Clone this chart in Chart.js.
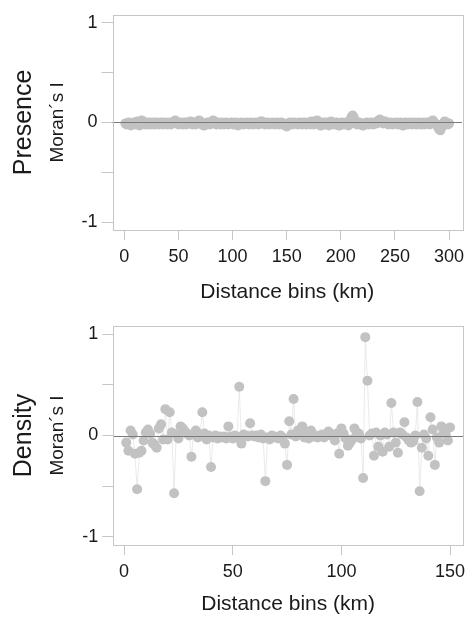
<!DOCTYPE html>
<html>
<head>
<meta charset="utf-8">
<script src="https://cdn.jsdelivr.net/npm/chart.js@4.4.1/dist/chart.umd.min.js"></script>
<style>
  html, body { margin: 0; padding: 0; background: #ffffff; }
  #wrap { position: relative; width: 472px; height: 617px; }
  #presenceChart { position: absolute; left: 0; top: 0; }
  #densityChart { position: absolute; left: 0; top: 305px; }
</style>
</head>
<body>
<div id="wrap">
  <canvas id="presenceChart" width="472" height="305"></canvas>
  <canvas id="densityChart" width="472" height="312"></canvas>
</div>
<script>
// Moran's I per distance bin, presence model (bins 1..300)
const presenceValues = [
  -0.01,-0.02,-0.01,0.00,-0.02,-0.03,-0.01,-0.02,0.00,-0.01,-0.02,0.01,-0.01,-0.03,-0.02,0.02,0.01,-0.01,-0.02,0.00,
  -0.01,-0.02,0.00,-0.01,-0.02,-0.01,0.00,-0.02,-0.01,0.00,-0.01,-0.02,-0.01,0.00,-0.01,-0.02,0.00,-0.01,-0.01,-0.02,
  0.00,-0.01,-0.02,-0.01,0.00,0.01,0.02,0.00,-0.01,-0.02,-0.01,0.00,-0.01,-0.02,-0.01,0.00,-0.02,-0.01,0.00,-0.01,
  0.01,-0.01,-0.02,0.00,-0.01,-0.02,-0.01,0.01,0.02,0.01,-0.01,-0.02,-0.03,-0.03,-0.02,-0.01,0.00,-0.01,-0.02,0.00,
  0.01,0.02,0.01,-0.01,-0.02,0.00,-0.01,-0.01,-0.02,0.00,-0.01,-0.02,-0.01,0.00,-0.01,-0.02,-0.01,-0.01,0.00,-0.01,
  -0.02,-0.01,0.00,-0.01,-0.03,-0.02,-0.01,0.00,-0.01,-0.02,-0.01,-0.01,0.00,-0.01,-0.02,-0.01,0.00,-0.01,-0.02,-0.01,
  0.00,-0.01,-0.01,-0.02,0.00,0.01,0.01,0.00,-0.01,-0.02,-0.01,0.00,-0.01,-0.02,-0.01,-0.01,0.00,-0.01,-0.02,-0.01,
  0.00,-0.01,-0.02,-0.01,0.00,-0.02,-0.01,-0.02,-0.03,-0.04,-0.02,-0.01,0.00,-0.01,-0.02,-0.01,0.00,-0.01,-0.01,-0.02,
  -0.01,0.00,-0.01,-0.02,-0.01,0.00,-0.01,-0.02,-0.01,0.00,-0.01,-0.02,0.01,-0.01,-0.02,0.00,0.01,0.02,0.01,-0.01,
  -0.03,-0.03,-0.01,0.00,-0.01,-0.02,0.00,-0.02,-0.03,-0.02,0.01,0.00,-0.01,-0.02,-0.01,0.00,-0.02,-0.03,-0.03,-0.01,
  0.00,-0.01,-0.02,-0.01,0.00,-0.02,-0.03,-0.01,0.03,0.06,0.07,0.05,0.00,-0.01,-0.02,-0.01,0.00,-0.02,-0.01,-0.03,
  -0.03,-0.02,-0.01,0.00,-0.01,-0.02,-0.01,0.00,-0.01,-0.02,-0.01,0.00,-0.01,0.01,0.02,0.03,0.02,0.00,-0.01,0.01,
  0.01,0.00,-0.01,-0.02,-0.01,0.00,-0.01,-0.02,-0.01,-0.01,0.00,-0.01,-0.02,-0.01,0.00,-0.02,-0.03,-0.03,-0.01,0.00,
  -0.01,-0.02,-0.01,0.00,-0.01,-0.02,-0.01,0.00,-0.01,-0.02,-0.01,0.00,-0.01,-0.02,-0.01,0.00,-0.02,-0.01,-0.01,0.00,
  -0.01,-0.02,0.00,0.01,0.02,0.00,-0.01,-0.02,-0.03,-0.05,-0.07,-0.08,-0.05,-0.02,-0.01,0.01,0.00,-0.01,-0.02,-0.01
];

// Moran's I per distance bin, density model (bins 1..150)
const densityValues = [
  -0.07,-0.15,0.05,0.01,-0.18,-0.53,-0.17,-0.15,-0.05,0.03,
  0.06,0.02,-0.07,-0.09,-0.12,0.07,0.11,-0.04,0.26,-0.04,
  0.23,0.03,-0.57,0.01,-0.03,0.09,0.07,0.04,0.02,0.00,
  -0.21,0.01,0.05,-0.02,0.01,0.23,0.02,-0.04,0.00,-0.31,
  -0.02,0.00,-0.03,-0.01,-0.02,-0.01,-0.03,0.09,-0.01,-0.03,
  0.00,-0.02,0.48,-0.08,0.01,0.00,-0.01,0.12,0.00,-0.01,
  0.00,-0.02,0.01,-0.03,-0.45,-0.02,-0.04,0.00,-0.01,-0.02,
  -0.03,0.00,-0.02,-0.08,-0.29,0.14,0.01,0.36,-0.01,0.05,
  0.02,0.09,-0.02,0.03,-0.03,0.05,-0.01,0.00,-0.02,-0.01,
  0.01,-0.02,0.00,0.04,0.02,-0.01,-0.05,0.02,-0.18,0.07,
  0.02,-0.03,-0.10,-0.07,-0.04,0.07,0.03,0.02,-0.03,-0.42,
  0.97,0.54,0.00,0.02,-0.20,0.03,-0.11,0.00,-0.16,0.03,
  0.01,-0.11,0.32,0.03,-0.07,-0.17,0.03,0.01,0.13,-0.02,
  -0.05,-0.07,-0.06,0.00,0.33,-0.55,-0.12,0.01,-0.03,-0.20,
  0.18,0.06,-0.29,-0.02,-0.07,0.09,0.03,0.01,-0.05,0.08
];

const presenceXTicks = [0, 50, 100, 150, 200, 250, 300];
const densityXTicks = [0, 50, 100, 150];
const yTicks = [-1, -0.5, 0, 0.5, 1];

const FONT = '"Liberation Sans", Arial, Helvetica, sans-serif';
const TEXT = '#1a1a1a';

// frame around the plot area + zero reference line on top of the points
const framePlugin = {
  id: 'frame',
  afterDatasetsDraw(chart) {
    const { ctx, chartArea: a, scales } = chart;
    ctx.save();
    const y0 = Math.round(scales.y.getPixelForValue(0)) + 0.5;
    ctx.strokeStyle = '#7a7a7a';
    ctx.lineWidth = 1.2;
    ctx.beginPath();
    ctx.moveTo(a.left, y0);
    ctx.lineTo(a.right, y0);
    ctx.stroke();
    ctx.strokeStyle = '#c6c6c6';
    ctx.lineWidth = 1;
    ctx.strokeRect(Math.round(a.left) + 0.5, Math.round(a.top) + 0.5,
      Math.round(a.right - a.left), Math.round(a.bottom - a.top));
    ctx.restore();
  }
};

function makeChart(id, label, values, xTicks, xMax, opts) {
  const points = values.map((v, i) => ({ x: i + 1, y: v }));
  return new Chart(document.getElementById(id), {
    type: 'line',
    data: {
      datasets: [{
        data: points,
        borderColor: '#e4e4e4',
        borderWidth: 0.8,
        pointRadius: 5,
        pointBackgroundColor: '#c2c2c2',
        pointBorderWidth: 0,
        pointHoverRadius: 5,
        tension: 0
      }]
    },
    options: {
      responsive: false,
      animation: false,
      layout: { padding: opts.padding },
      plugins: {
        legend: { display: false },
        tooltip: { enabled: false }
      },
      scales: {
        x: {
          type: 'linear',
          min: opts.xMin,
          max: xMax,
          afterBuildTicks: s => { s.ticks = xTicks.map(v => ({ value: v })); },
          afterFit: s => { s.height = opts.xHeight; },
          border: { display: false },
          grid: { drawOnChartArea: false, tickLength: 10, tickColor: '#c6c6c6' },
          ticks: {
            color: TEXT, padding: 6, maxRotation: 0,
            font: { family: FONT, size: 18 },
            callback: v => String(v)
          },
          title: {
            display: true, text: 'Distance bins (km)', color: TEXT,
            font: { family: FONT, size: 21 },
            padding: { top: opts.xTitlePad, bottom: 0 }
          }
        },
        y: {
          min: -1.08,
          max: 1.08,
          afterBuildTicks: s => { s.ticks = yTicks.map(v => ({ value: v })); },
          afterFit: s => { s.width = opts.yWidth; },
          border: { display: false },
          grid: { drawOnChartArea: false, tickLength: 11, tickColor: '#c6c6c6' },
          ticks: {
            color: TEXT, padding: 4,
            font: { family: FONT, size: 18 },
            callback: v => Number.isInteger(v) ? String(v) : ''
          },
          title: {
            display: true, text: 'Moran´s I', color: TEXT,
            font: { family: FONT, size: 19 },
            padding: { top: 7, bottom: 0 }
          }
        },
        // outer axis used only to carry the big panel label
        panel: {
          position: 'left',
          weight: 1,
          min: -1.08,
          max: 1.08,
          afterFit: s => { s.width = 30; },
          border: { display: false },
          grid: { display: false },
          ticks: { display: false },
          title: {
            display: true, text: label, color: TEXT,
            font: { family: FONT, size: 25 },
            padding: { top: 0, bottom: 0 }
          }
        }
      }
    },
    plugins: [framePlugin]
  });
}

makeChart('presenceChart', 'Presence', presenceValues, presenceXTicks, 311.96, {
  xMin: -10.96,
  padding: { left: 9, right: 10, top: 12, bottom: 0 },
  xHeight: 75,
  yWidth: 73.5,
  xTitlePad: 4
});

makeChart('densityChart', 'Density', densityValues, densityXTicks, 155.96, {
  xMin: -4.96,
  padding: { left: 9, right: 9, top: 21, bottom: 0 },
  xHeight: 72,
  yWidth: 74.3,
  xTitlePad: 0
});
</script>
</body>
</html>
